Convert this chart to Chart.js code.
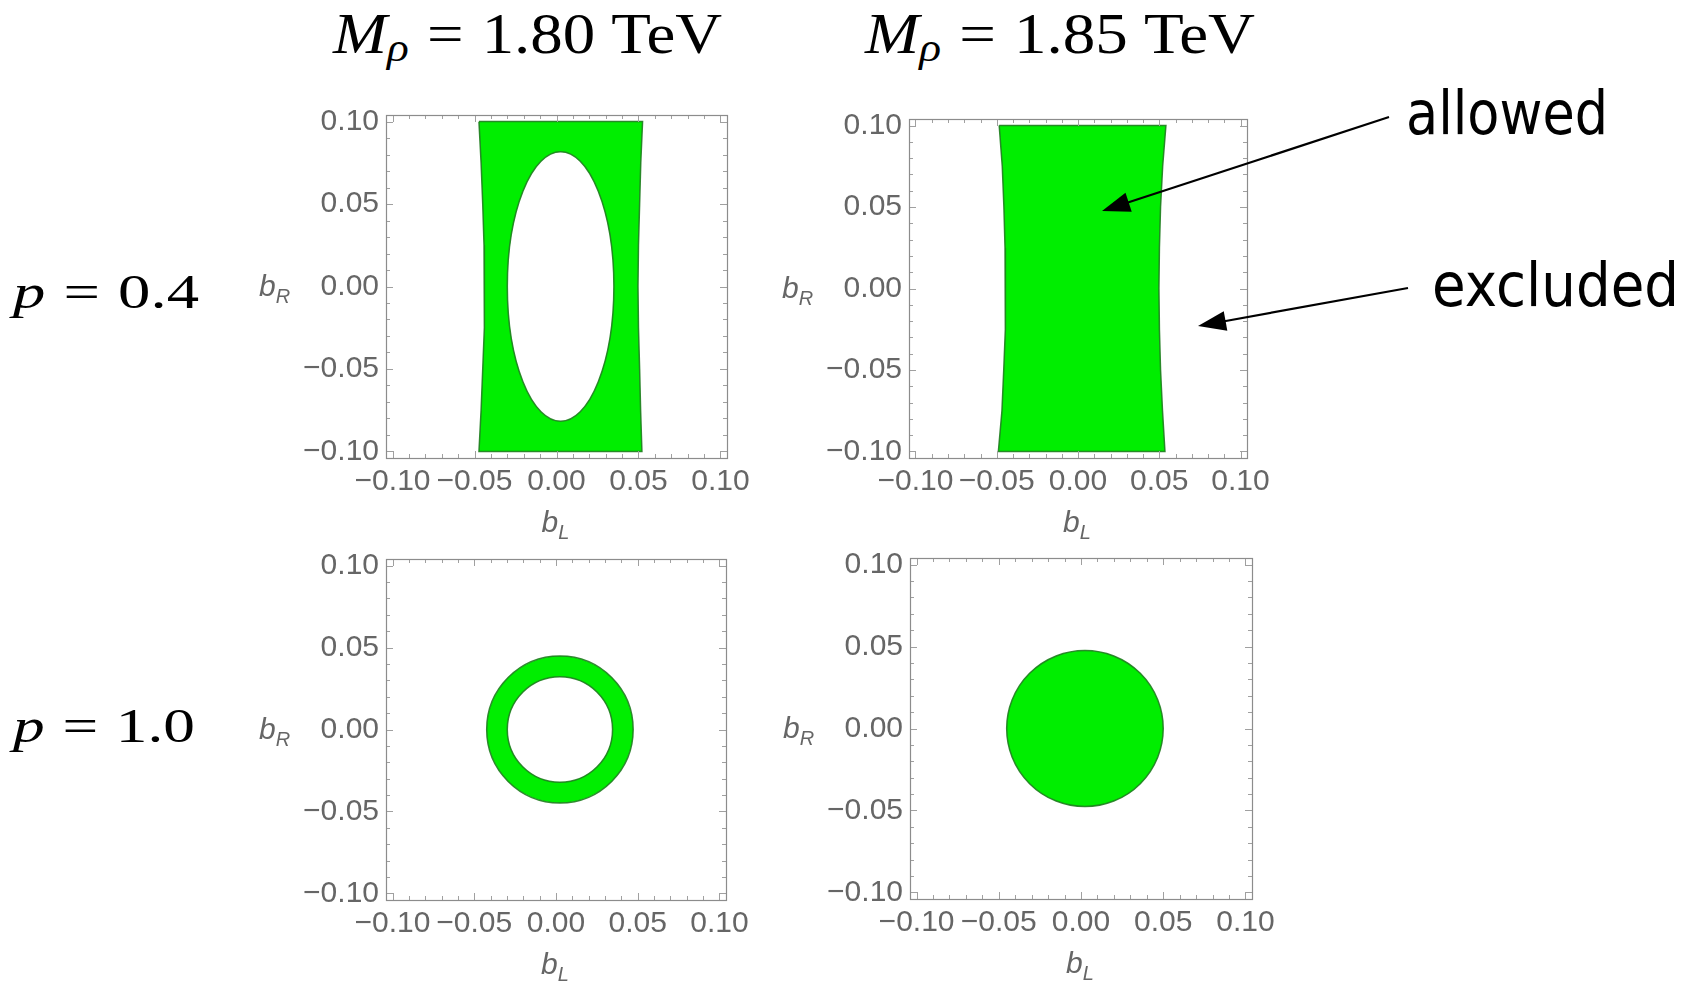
<!DOCTYPE html>
<html><head><meta charset="utf-8">
<script src="https://cdn.jsdelivr.net/npm/chart.js@4.4.0/dist/chart.umd.min.js"></script>
<style>
html,body{margin:0;padding:0;background:#fff;}
body{width:1689px;height:987px;overflow:hidden;position:relative}
.panel{position:absolute}
.panel canvas{display:block}
.lbl{position:absolute;white-space:nowrap;line-height:1;transform-origin:0 0;color:#000}
.tex{font-family:"Liberation Serif","DejaVu Serif",serif}
.hand{font-family:"DejaVu Sans",sans-serif}
.sub{font-size:0.7em;position:relative;top:0.2em}
.rel{margin:0 0.28em}
svg.ov{position:absolute;left:0;top:0;z-index:5}
</style></head><body>

<div class="lbl tex" id="h1" style="font-size:56px;top:6px"><i>M</i><span class="sub"><i>ρ</i></span><span class="rel">=</span>1.80 TeV</div>
<div class="lbl tex" id="h2" style="font-size:56px;top:6px"><i>M</i><span class="sub"><i>ρ</i></span><span class="rel">=</span>1.85 TeV</div>
<div class="lbl tex" id="r1" style="font-size:49px;top:267px"><i>p</i><span class="rel">=</span>0.4</div>
<div class="lbl tex" id="r2" style="font-size:49px;top:701px"><i>p</i><span class="rel">=</span>1.0</div>
<div class="lbl hand" id="a1" style="font-size:61px;top:82px">allowed</div>
<div class="lbl hand" id="a2" style="font-size:60px;top:255px">excluded</div>

<div class="panel" style="left:236px;top:90px"><canvas id="c1" width="531" height="458"></canvas></div>
<div class="panel" style="left:759px;top:94px"><canvas id="c2" width="528" height="454"></canvas></div>
<div class="panel" style="left:236px;top:534px"><canvas id="c3" width="530" height="456"></canvas></div>
<div class="panel" style="left:760px;top:533px"><canvas id="c4" width="532" height="456"></canvas></div>

<svg class="ov" width="1689" height="987" id="ov"></svg>

<script>
// ---------------- data ----------------
const tickValues = [-0.10, -0.05, 0.00, 0.05, 0.10];
const tickLabels = ['\u22120.10', '\u22120.05', '0.00', '0.05', '0.10'];
const axisMin = -0.104, axisMax = 0.104;

// allowed band edges (b_L at given b_R)
const edgeY    = [0.10, 0.075, 0.05, 0.025, 0.00, -0.025, -0.05, -0.075, -0.10];
const p1LeftX  = [-0.0473, -0.0460, -0.0450, -0.0442, -0.0438, -0.0442, -0.0450, -0.0460, -0.0473];
const p1RightX = [0.0525, 0.0514, 0.0507, 0.0500, 0.0497, 0.0500, 0.0507, 0.0513, 0.0521];
const p2LeftX  = [-0.0485, -0.0466, -0.0456, -0.0449, -0.0445, -0.0449, -0.0457, -0.0468, -0.0490];
const p2RightX = [0.0541, 0.0521, 0.0508, 0.0501, 0.0498, 0.0501, 0.0508, 0.0520, 0.0535];

// excluded hole (p=0.4, M=1.80): centre and semi-axes
const p1HoleCenter = [0.0025, 0.000];
const p1HoleRadii  = [0.0325, 0.0817];
// ring (p=1.0, M=1.80)
const p3Center = [0.0024, 0.000];
const p3OuterRadius = 0.0448;
const p3InnerRadius = 0.0322;
// disc (p=1.0, M=1.85)
const p4Center = [0.0024, 0.000];
const p4Radius = 0.0476;

// ---------------- styles ----------------
const GREEN = 'rgb(0,238,0)';
const EDGE = 'rgba(30,125,30,0.9)';
const TXT = '#666666';
const FRAME = '#8c8c8c';
const FONT = '"Liberation Sans", Arial, sans-serif';
const YW = 150, XH = 90, PT = 25, PR = 40;

function polygon(leftX, rightX) {
  const pts = [];
  for (let i = 0; i < edgeY.length; i++) pts.push({x: leftX[i], y: edgeY[i]});
  for (let i = edgeY.length - 1; i >= 0; i--) pts.push({x: rightX[i], y: edgeY[i]});
  pts.push({x: leftX[0], y: edgeY[0]});
  return pts;
}

const ellipsePlugin = {
  id: 'ellipses',
  afterDatasetsDraw(chart, args, opts) {
    const items = opts.items || [];
    const {ctx, chartArea, scales: {x, y}} = chart;
    ctx.save();
    ctx.beginPath();
    ctx.rect(chartArea.left, chartArea.top, chartArea.right - chartArea.left, chartArea.bottom - chartArea.top);
    ctx.clip();
    for (const e of items) {
      const px = x.getPixelForValue(e.cx), py = y.getPixelForValue(e.cy);
      const rx = Math.abs(x.getPixelForValue(e.cx + e.rx) - px);
      const ry = Math.abs(y.getPixelForValue(e.cy + e.ry) - py);
      ctx.beginPath();
      ctx.ellipse(px, py, rx, ry, 0, 0, Math.PI * 2);
      ctx.fillStyle = e.fill; ctx.fill();
      ctx.lineWidth = 1.5; ctx.strokeStyle = EDGE; ctx.stroke();
    }
    ctx.restore();
  }
};

const framePlugin = {
  id: 'frame',
  afterDraw(chart) {
    const {ctx, chartArea: a, scales: {x, y}} = chart;
    ctx.save();
    // minor + major inward ticks
    ctx.strokeStyle = '#a0a0a0'; ctx.lineWidth = 1;
    for (let k = -10; k <= 10; k++) {
      const v = k / 100;
      const major = (k % 5 === 0);
      const len = major ? 7 : 4;
      const px = Math.round(x.getPixelForValue(v)) + 0.5;
      const py = Math.round(y.getPixelForValue(v)) + 0.5;
      ctx.beginPath();
      ctx.moveTo(px, a.bottom); ctx.lineTo(px, a.bottom - len);
      ctx.moveTo(px, a.top); ctx.lineTo(px, a.top + len);
      ctx.moveTo(a.left, py); ctx.lineTo(a.left + len, py);
      ctx.moveTo(a.right, py); ctx.lineTo(a.right - len, py);
      ctx.stroke();
    }
    ctx.strokeStyle = FRAME; ctx.lineWidth = 1.2;
    ctx.strokeRect(Math.round(a.left) + 0.5, Math.round(a.top) + 0.5, Math.round(a.right - a.left), Math.round(a.bottom - a.top));
    // axis titles b_R and b_L
    ctx.fillStyle = TXT;
    ctx.textBaseline = 'alphabetic'; ctx.textAlign = 'left';
    const yz = y.getPixelForValue(0), xz = x.getPixelForValue(0);
    ctx.font = 'italic 30px ' + FONT;
    let bx = a.left - 127, by = yz + 9;
    ctx.fillText('b', bx, by);
    let w = ctx.measureText('b').width;
    ctx.font = 'italic 20px ' + FONT;
    ctx.fillText('R', bx + w, by + 7);
    ctx.font = 'italic 30px ' + FONT;
    bx = xz - 15; by = a.bottom + 74;
    ctx.fillText('b', bx, by);
    w = ctx.measureText('b').width;
    ctx.font = 'italic 20px ' + FONT;
    ctx.fillText('L', bx + w, by + 7);
    ctx.restore();
  }
};

function tickText(v) {
  const i = tickValues.findIndex(t => Math.abs(t - v) < 1e-9);
  return i >= 0 ? tickLabels[i] : '';
}

function axis(isX) {
  return {
    type: 'linear', min: axisMin, max: axisMax,
    grid: {display: false, drawTicks: false},
    border: {display: false},
    afterBuildTicks: s => { s.ticks = tickValues.map(v => ({value: v})); },
    afterFit: s => { if (isX) s.height = XH; else s.width = YW; },
    ticks: {autoSkip: false, maxRotation: 0, minRotation: 0, padding: isX ? 6 : 7,
      color: TXT, font: {family: FONT, size: 30}, callback: v => tickText(v)}
  };
}

function makeChart(id, datasets, ellipses) {
  return new Chart(document.getElementById(id), {
    type: 'line',
    data: {datasets},
    options: {
      responsive: false, animation: false, devicePixelRatio: 1,
      layout: {padding: {top: PT, right: PR, left: 0, bottom: 0}},
      plugins: {legend: {display: false}, tooltip: {enabled: false}, ellipses: {items: ellipses}},
      scales: {x: axis(true), y: axis(false)},
      elements: {point: {radius: 0}, line: {tension: 0}}
    },
    plugins: [ellipsePlugin, framePlugin]
  });
}

function band(leftX, rightX, label) {
  return {label, data: polygon(leftX, rightX), parsing: false, fill: 'shape',
    backgroundColor: GREEN, borderColor: EDGE, borderWidth: 1.5, pointRadius: 0, tension: 0};
}

makeChart('c1', [band(p1LeftX, p1RightX, 'allowed p=0.4 M=1.80')],
  [{cx: p1HoleCenter[0], cy: p1HoleCenter[1], rx: p1HoleRadii[0], ry: p1HoleRadii[1], fill: '#ffffff'}]);
makeChart('c2', [band(p2LeftX, p2RightX, 'allowed p=0.4 M=1.85')], []);
makeChart('c3', [],
  [{cx: p3Center[0], cy: p3Center[1], rx: p3OuterRadius, ry: p3OuterRadius, fill: GREEN},
   {cx: p3Center[0], cy: p3Center[1], rx: p3InnerRadius, ry: p3InnerRadius, fill: '#ffffff'}]);
makeChart('c4', [],
  [{cx: p4Center[0], cy: p4Center[1], rx: p4Radius, ry: p4Radius, fill: GREEN}]);

// ---------------- text fitting ----------------
function fit(id, left, width) {
  const el = document.getElementById(id);
  el.style.left = left + 'px';
  const w = el.getBoundingClientRect().width;
  el.style.transform = 'scaleX(' + (width / w) + ')';
}
fit('h1', 333, 389);
fit('h2', 865, 390);
fit('r1', 13, 186);
fit('r2', 13, 182);
fit('a1', 1406, 202);
fit('a2', 1432, 247);

// ---------------- arrows ----------------
const NS = 'http://www.w3.org/2000/svg';
const ov = document.getElementById('ov');
function arrow(x1, y1, x2, y2) {
  const dx = x2 - x1, dy = y2 - y1, L = Math.hypot(dx, dy);
  const ux = dx / L, uy = dy / L, hl = 28, hw = 10;
  const bx = x2 - ux * hl, by = y2 - uy * hl;
  const line = document.createElementNS(NS, 'line');
  line.setAttribute('x1', x1); line.setAttribute('y1', y1);
  line.setAttribute('x2', bx + ux * 4); line.setAttribute('y2', by + uy * 4);
  line.setAttribute('stroke', '#000'); line.setAttribute('stroke-width', '2.2');
  ov.appendChild(line);
  const poly = document.createElementNS(NS, 'polygon');
  poly.setAttribute('points', [x2, y2, bx - uy * hw, by + ux * hw, bx + uy * hw, by - ux * hw].join(','));
  poly.setAttribute('fill', '#000');
  ov.appendChild(poly);
}
arrow(1389, 117, 1102, 211);
arrow(1408, 288, 1198, 326);
</script>
</body></html>
